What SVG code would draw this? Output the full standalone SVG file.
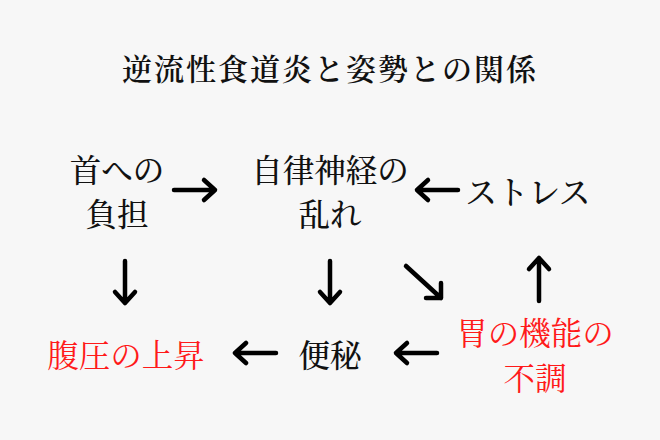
<svg xmlns="http://www.w3.org/2000/svg" width="660" height="440" viewBox="0 0 660 440">
<style>
text{font-family:"Noto Serif CJK JP","Noto Sans CJK JP",serif;font-size:31.5px;font-weight:500;text-anchor:middle;fill:#111}
.title{font-size:30px;letter-spacing:2px;font-weight:600}
.red{fill:#ff1a1a;font-weight:400}
.arr path{fill:none;stroke:#000;stroke-width:4.5;stroke-linecap:round;stroke-linejoin:round}
</style>
<rect width="660" height="440" fill="#f7f7f7"/>
<g id="title"><text class="title" x="330" y="80">逆流性食道炎と姿勢との関係</text></g>
<g id="n1"><text x="117" y="182">首への</text><text x="117" y="226">負担</text></g>
<g id="n2"><text x="330" y="182">自律神経の</text><text x="330" y="226">乱れ</text></g>
<g id="n3"><text x="528" y="204">ストレス</text></g>
<g id="n4"><text class="red" x="126" y="367">腹圧の上昇</text></g>
<g id="n5"><text x="330" y="367">便秘</text></g>
<g id="n6"><text class="red" x="535" y="345">胃の機能の</text><text class="red" x="535" y="390">不調</text></g>
<g id="connectors" class="arr">
<path d="M174 190H215M204 180L215 190L204 200"/>
<path d="M458 190H417M428 180L417 190L428 200"/>
<path d="M125 261V303M115 292L125 303L135 292"/>
<path d="M330 261V303M320 292L330 303L340 292"/>
<path d="M406 266L441 298M426 298L441 298L441 283"/>
<path d="M539 301V258M529 269L539 258L549 269"/>
<path d="M276 353H235M246 343L235 353L246 363"/>
<path d="M437 353H396M407 343L396 353L407 363"/>
</g>
</svg>
